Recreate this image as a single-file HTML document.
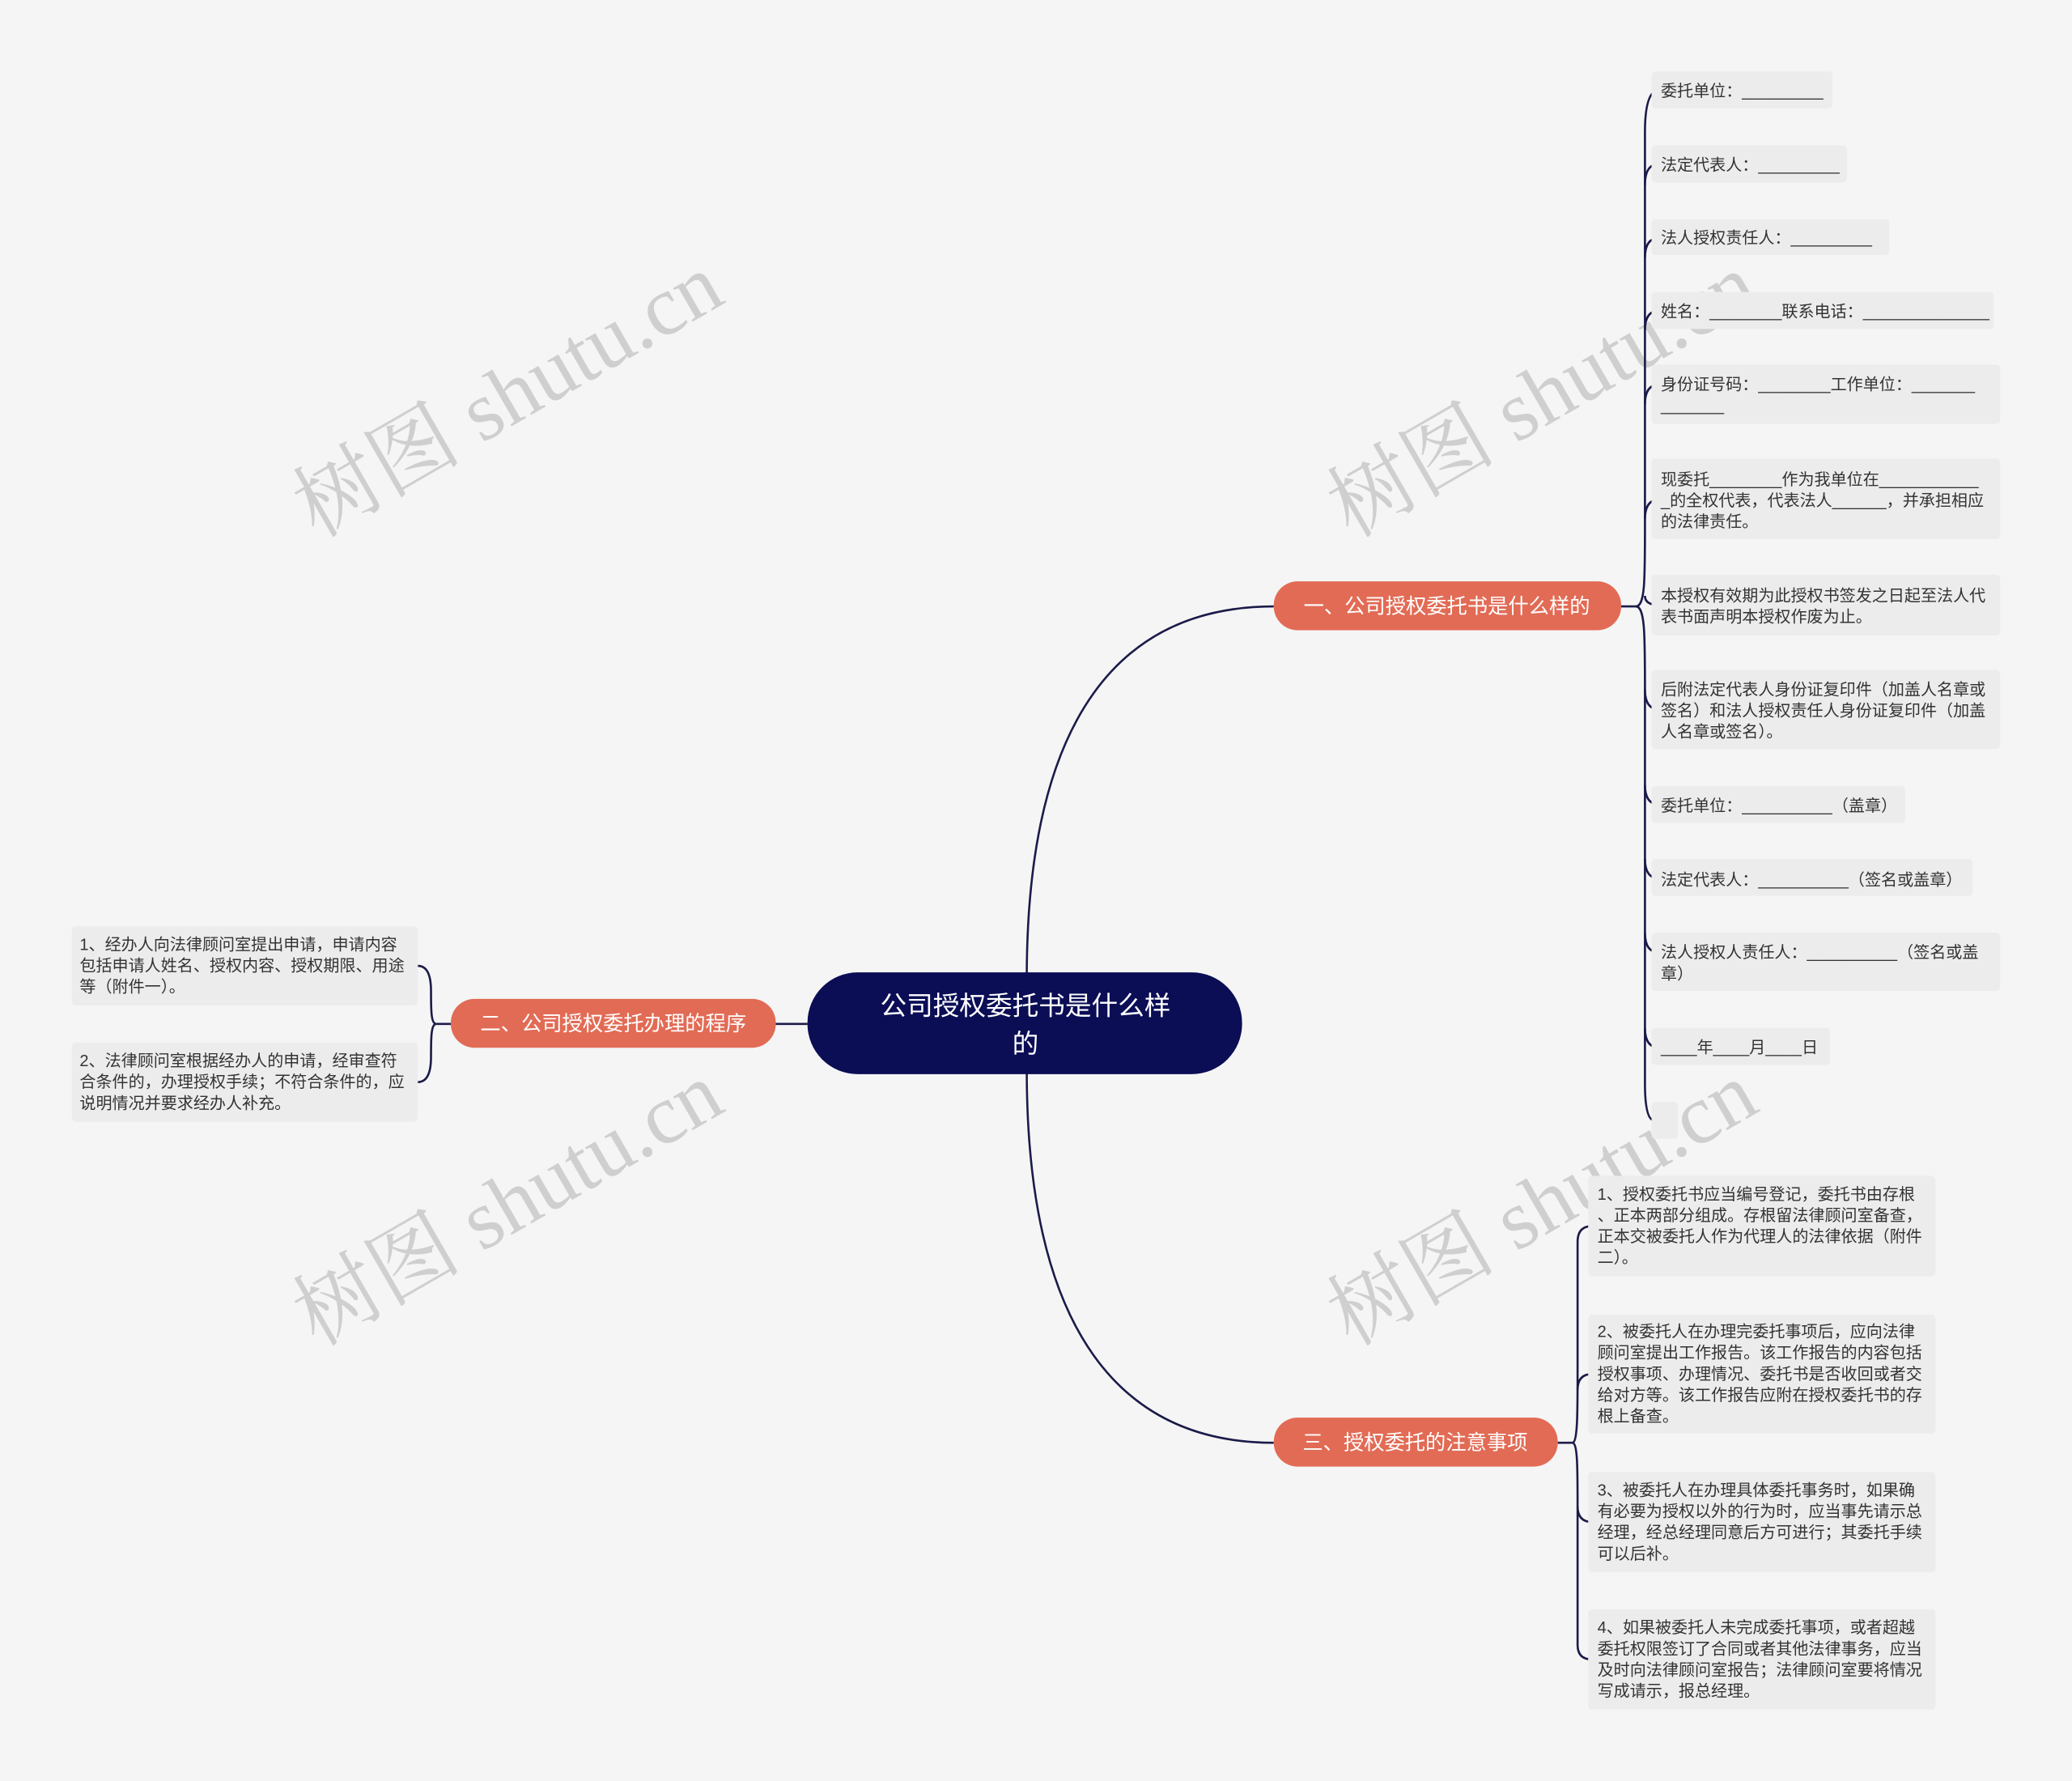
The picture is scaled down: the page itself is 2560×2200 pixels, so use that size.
<!DOCTYPE html>
<html><head><meta charset="utf-8"><style>
html,body{margin:0;padding:0;background:#f5f5f5;}
svg{display:block;}
text{font-family:"Liberation Sans","Noto Sans CJK SC",sans-serif;}
.lf{font-size:12.3px;fill:#333;}
.br{font-size:15.5px;fill:#fff;}
.wm text{font-size:64px;fill:#cfcfcf;font-family:"Liberation Serif","Noto Serif CJK SC",serif;}
</style></head><body>
<svg width="2560" height="2200" viewBox="0 0 1568 1348" xmlns="http://www.w3.org/2000/svg">
<rect width="1568" height="1348" fill="#f5f5f5"/>
<g class="wm">
<text transform="translate(395,318) rotate(-30)" text-anchor="middle">树图 shutu.cn</text>
<text transform="translate(1178,318) rotate(-30)" text-anchor="middle">树图 shutu.cn</text>
<text transform="translate(395,930) rotate(-30)" text-anchor="middle">树图 shutu.cn</text>
<text transform="translate(1178,930) rotate(-30)" text-anchor="middle">树图 shutu.cn</text>
</g>
<g fill="none" stroke="#1b1b4a" stroke-width="1.6">
<path d="M777 740 C777 540 850 459 964 459"/>
<path d="M777 810 C777 1010 850 1092 964 1092"/>
<path d="M587 775 H611"/>
<path d="M1227 459 H1238"/>
<path d="M1179 1092 H1190"/>
<path d="M341 775 H330"/>
<path d="M1238 459 C1245 459 1245 440 1245 400 L1245 100 Q1245 68 1256 68"/>
<path d="M1238 459 C1245 459 1245 480 1245 520 L1245 820 Q1245 848 1252 848"/>
<path d="M1245 140 Q1245 124 1256 124"/>
<path d="M1245 195 Q1245 180 1256 180"/>
<path d="M1245 250 Q1245 235 1256 235"/>
<path d="M1245 306 Q1245 291 1256 291"/>
<path d="M1245 393 Q1245 378 1256 378"/>
<path d="M1245 451 Q1245 458 1256 458"/>
<path d="M1245 522 Q1245 537 1256 537"/>
<path d="M1245 594 Q1245 609 1256 609"/>
<path d="M1245 650 Q1245 665 1256 665"/>
<path d="M1245 706 Q1245 721 1256 721"/>
<path d="M1245 778 Q1245 793 1256 793"/>
<path d="M1190 1092 C1194 1092 1194 1070 1194 1040 L1194 940 Q1194 928 1205 928"/>
<path d="M1190 1092 C1194 1092 1194 1110 1194 1140 L1194 1245 Q1194 1256 1205 1256"/>
<path d="M1194 1052 Q1194 1040 1205 1040"/>
<path d="M1194 1140 Q1194 1152 1205 1152"/>
<path d="M330 775 C326 775 326 765 326 750 Q326 731 316 731"/>
<path d="M330 775 C326 775 326 785 326 800 Q326 819 316 819"/>
</g>
<rect x="611" y="736" width="329" height="77" rx="38" fill="#0b0e55"/>
<text x="776" y="768" text-anchor="middle" style="font-size:20px;fill:#fff">公司授权委托书是什么样</text>
<text x="776" y="797" text-anchor="middle" style="font-size:20px;fill:#fff">的</text>
<rect x="964" y="440" width="263" height="37" rx="18" fill="#e26b55"/>
<text class="br" x="1095" y="464" text-anchor="middle">一、公司授权委托书是什么样的</text>
<rect x="341" y="756" width="246" height="37" rx="18" fill="#e26b55"/>
<text class="br" x="464" y="780" text-anchor="middle">二、公司授权委托办理的程序</text>
<rect x="964" y="1073" width="215" height="37" rx="18" fill="#e26b55"/>
<text class="br" x="1071" y="1097" text-anchor="middle">三、授权委托的注意事项</text>
<g fill="#ececec">
<rect x="1250" y="54" width="137" height="28" rx="3"/>
<rect x="1250" y="110" width="148" height="28" rx="3"/>
<rect x="1250" y="166" width="180" height="27" rx="3"/>
<rect x="1250" y="221" width="259" height="28" rx="3"/>
<rect x="1250" y="276" width="264" height="45" rx="3"/>
<rect x="1250" y="347" width="264" height="61" rx="3"/>
<rect x="1250" y="435" width="264" height="46" rx="3"/>
<rect x="1250" y="507" width="264" height="60" rx="3"/>
<rect x="1250" y="595" width="192" height="28" rx="3"/>
<rect x="1250" y="650" width="243" height="28" rx="3"/>
<rect x="1250" y="706" width="264" height="44" rx="3"/>
<rect x="1250" y="778" width="135" height="28" rx="3"/>
<rect x="1250" y="834" width="20" height="28" rx="3"/>
<rect x="54" y="701" width="262" height="60" rx="3"/>
<rect x="54" y="789" width="262" height="60" rx="3"/>
<rect x="1202" y="890" width="263" height="76" rx="3"/>
<rect x="1202" y="995" width="263" height="90" rx="3"/>
<rect x="1202" y="1114" width="263" height="76" rx="3"/>
<rect x="1202" y="1218" width="263" height="76" rx="3"/>
</g>
<g class="lf">
<text x="1257" y="73">委托单位：_________</text>
<text x="1257" y="129">法定代表人：_________</text>
<text x="1257" y="184">法人授权责任人：_________</text>
<text x="1257" y="240">姓名：________联系电话：______________</text>
<text x="1257" y="295">身份证号码：________工作单位：_______</text>
<text x="1257" y="311">_______</text>
<text x="1257" y="367">现委托________作为我单位在___________</text>
<text x="1257" y="383">_的全权代表，代表法人______，并承担相应</text>
<text x="1257" y="399">的法律责任。</text>
<text x="1257" y="455">本授权有效期为此授权书签发之日起至法人代</text>
<text x="1257" y="471">表书面声明本授权作废为止。</text>
<text x="1257" y="526">后附法定代表人身份证复印件（加盖人名章或</text>
<text x="1257" y="542">签名）和法人授权责任人身份证复印件（加盖</text>
<text x="1257" y="558">人名章或签名）。</text>
<text x="1257" y="614">委托单位：__________（盖章）</text>
<text x="1257" y="670">法定代表人：__________（签名或盖章）</text>
<text x="1257" y="725">法人授权人责任人：__________（签名或盖</text>
<text x="1257" y="741">章）</text>
<text x="1257" y="797">____年____月____日</text>
<text x="60" y="719">1、经办人向法律顾问室提出申请，申请内容</text>
<text x="60" y="735">包括申请人姓名、授权内容、授权期限、用途</text>
<text x="60" y="751">等（附件一）。</text>
<text x="60" y="807">2、法律顾问室根据经办人的申请，经审查符</text>
<text x="60" y="823">合条件的，办理授权手续；不符合条件的，应</text>
<text x="60" y="839">说明情况并要求经办人补充。</text>
<text x="1209" y="908">1、授权委托书应当编号登记，委托书由存根</text>
<text x="1209" y="924">、正本两部分组成。存根留法律顾问室备查，</text>
<text x="1209" y="940">正本交被委托人作为代理人的法律依据（附件</text>
<text x="1209" y="956">二）。</text>
<text x="1209" y="1012">2、被委托人在办理完委托事项后，应向法律</text>
<text x="1209" y="1028">顾问室提出工作报告。该工作报告的内容包括</text>
<text x="1209" y="1044">授权事项、办理情况、委托书是否收回或者交</text>
<text x="1209" y="1060">给对方等。该工作报告应附在授权委托书的存</text>
<text x="1209" y="1076">根上备查。</text>
<text x="1209" y="1132">3、被委托人在办理具体委托事务时，如果确</text>
<text x="1209" y="1148">有必要为授权以外的行为时，应当事先请示总</text>
<text x="1209" y="1164">经理，经总经理同意后方可进行；其委托手续</text>
<text x="1209" y="1180">可以后补。</text>
<text x="1209" y="1236">4、如果被委托人未完成委托事项，或者超越</text>
<text x="1209" y="1252">委托权限签订了合同或者其他法律事务，应当</text>
<text x="1209" y="1268">及时向法律顾问室报告；法律顾问室要将情况</text>
<text x="1209" y="1284">写成请示，报总经理。</text>
</g>
</svg>
</body></html>
